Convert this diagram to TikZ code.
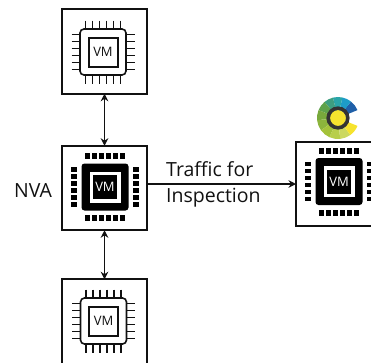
\documentclass[tikz,border=0pt]{standalone}
\usepackage{fontspec}
\usetikzlibrary{arrows.meta}
\setmainfont{Open Sans}
\definecolor{inkc}{HTML}{111111}
\definecolor{lgA}{HTML}{1F5FA8}
\definecolor{lgB}{HTML}{1D9CC8}
\definecolor{lgC}{HTML}{2AA5A8}
\definecolor{lgD}{HTML}{3E9E80}
\definecolor{lgE}{HTML}{5FA24A}
\definecolor{lgF}{HTML}{78A93C}
\definecolor{lgG}{HTML}{8CB43C}
\definecolor{lgH}{HTML}{A4C23A}
\definecolor{lgI}{HTML}{B8CE4A}
\definecolor{lgJ}{HTML}{CCD860}
\definecolor{lgK}{HTML}{F6E32E}
\tikzset{
  hostbox/.style={draw=inkc,line width=1.7pt,minimum width=85pt,minimum height=84.5pt,inner sep=0pt,outer sep=0pt},
  linkarrow/.style={draw=inkc,line width=1.5pt,-{Stealth[length=7.5pt,width=7.5pt]}},
  duplex/.style={draw=inkc,line width=1.5pt,{Stealth[length=7.5pt,width=7.5pt]}-{Stealth[length=7.5pt,width=7.5pt]}},
  caption/.style={font=\fontsize{19.5}{26}\selectfont,text=inkc,inner sep=0pt},
  vmtext/.style={font=\fontsize{13}{14}\selectfont,inner sep=0pt},
  pics/linechip/.style={code={
    \foreach \p in {-17.5,-10.5,-3.5,3.5,10.5,17.5}{
      \draw[inkc,line width=1.6pt] (\p,-31.5) -- (\p,-23);
      \draw[inkc,line width=1.6pt] (\p,23) -- (\p,31.5);
      \draw[inkc,line width=1.6pt] (-31.5,\p) -- (-23,\p);
      \draw[inkc,line width=1.6pt] (23,\p) -- (31.5,\p);
    }
    \draw[inkc,line width=1.6pt,fill=white,rounded corners=4pt] (-23,-23) rectangle (23,23);
    \draw[inkc,line width=2pt] (-14.5,-14.5) rectangle (14.5,14.5);
    \node[vmtext,text=inkc] at (0,0.3) {VM};
  }},
  pics/solidchip/.style={code={
    \foreach \p in {-17.5,-10.5,-3.5,3.5,10.5,17.5}{
      \fill[black] (\p-2.3,-34) rectangle (\p+2.3,-28);
      \fill[black] (\p-2.3,28) rectangle (\p+2.3,34);
      \fill[black] (-34,\p-2.3) rectangle (-28,\p+2.3);
      \fill[black] (28,\p-2.3) rectangle (34,\p+2.3);
    }
    \fill[black,rounded corners=3pt] (-23.5,-23.5) rectangle (23.5,23.5);
    \fill[white] (-15.5,-15.5) rectangle (15.5,15.5);
    \fill[black] (-12,-12) rectangle (12,12);
    \node[vmtext,text=white] at (0,0.3) {VM};
  }}
}
\newcommand{\logowedge}[3]{\fill[#3] (0,0) -- (#1:21) arc[start angle=#1,end angle=#2,radius=21] -- cycle;}
\begin{document}
\begin{tikzpicture}[x=1pt,y=-1pt]
\useasboundingbox (0,0) rectangle (371,362);
\clip (0,0) rectangle (371,362);
\node[hostbox] (top) at (104.5,51.5) {};
\node[hostbox] (mid) at (104.5,188) {};
\node[hostbox] (bot) at (104.5,321.5) {};
\node[hostbox] (right) at (338.5,184) {};
\pic at (103,52) {linechip};
\pic at (105,187) {solidchip};
\pic at (103.5,321) {linechip};
\pic at (339,181.5) {solidchip};
\draw[duplex] (top) -- (mid);
\draw[duplex] (mid) -- (bot);
\draw[linkarrow] (mid.east |- right.west) -- (right.west);
\node[caption,anchor=base west] (nva) at (14,197) {NVA};
\node[caption,anchor=base west] (t1) at (166,176) {Traffic for};
\node[caption,anchor=base west] (t2) at (166,202) {Inspection};
\begin{scope}[shift={(338,118)},y=1pt]
  \logowedge{22}{52}{lgA}
  \logowedge{52}{78}{lgB}
  \logowedge{78}{104}{lgC}
  \logowedge{104}{130}{lgD}
  \logowedge{130}{158}{lgE}
  \logowedge{158}{186}{lgF}
  \logowedge{186}{216}{lgG}
  \logowedge{216}{246}{lgH}
  \logowedge{246}{276}{lgI}
  \logowedge{276}{306}{lgJ}
  \logowedge{306}{338}{lgK}
  \fill[lgK] (0,0) circle (8);
  \draw[black!80,line width=3.6pt] (0,0) circle (9.8);
\end{scope}
\end{tikzpicture}
\end{document}
